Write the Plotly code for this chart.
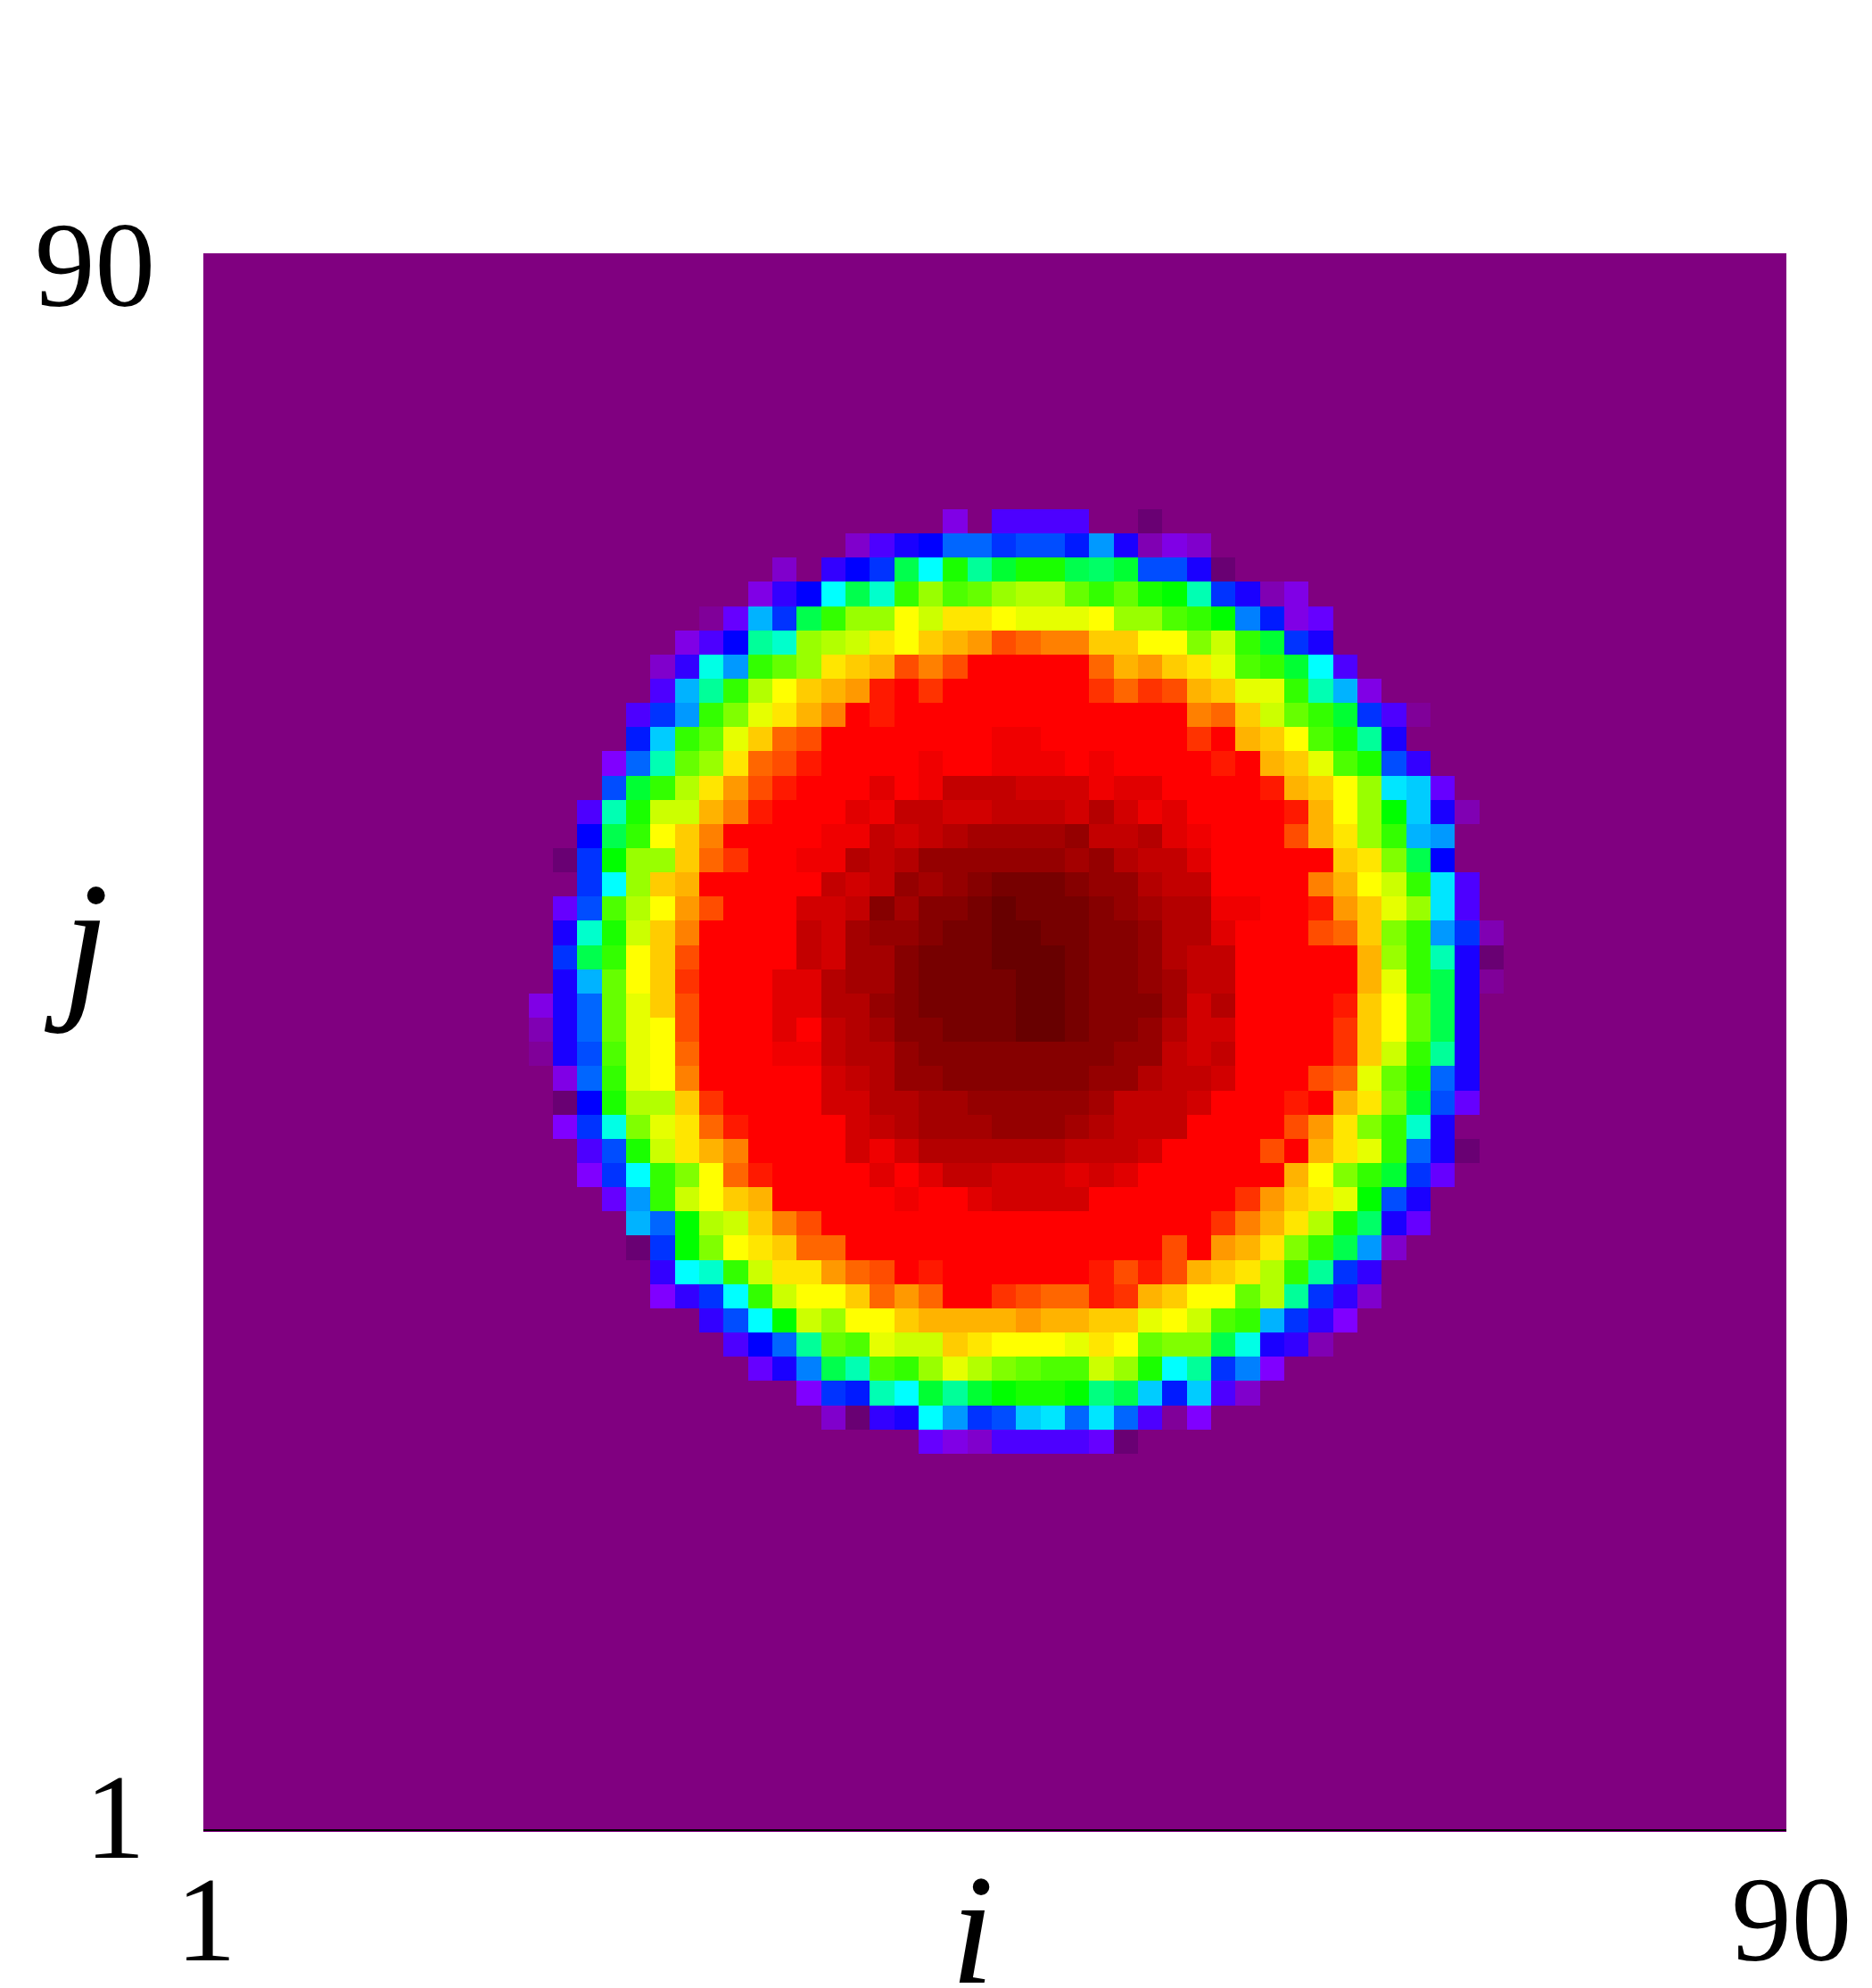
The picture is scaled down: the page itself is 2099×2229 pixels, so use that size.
import numpy as np
import plotly.graph_objects as go

# colour codes read cell by cell off the disk, top row first
disk_rows = [
    [0]*17 + [4,0,7,7,7,7,0,0,-2],
    [0]*13 + [3,7,9,10,14,14,12,13,13,11,16,9,2,4,3],
    [0]*10 + [3,0,8,10,12,27,20,31,24,28,31,31,27,26,28,13,13,9,-2],
    [0]*9 + [4,8,10,20,27,22,32,36,33,34,36,37,37,34,32,34,31,30,23,12,9,2,4],
    [0]*7 + [1,6,17,12,27,32,36,36,40,38,41,41,40,39,39,39,40,36,36,33,32,30,15,11,4,6],
    [0]*6 + [4,7,10,24,22,36,37,38,41,40,42,43,44,47,46,45,45,42,42,40,40,35,38,32,28,12,9],
    [0]*5 + [3,8,21,16,32,34,36,41,42,43,47,45,47,50,50,50,50,50,46,43,44,42,41,39,33,32,28,20,7],
    [0]*5 + [7,17,24,32,37,40,42,43,44,49,50,48,50,50,50,50,50,50,48,46,48,47,43,42,39,39,32,23,17,4],
    [0]*4 + [7,12,16,32,35,39,41,43,45,50,49,50,50,50,50,50,50,50,50,50,50,50,50,45,46,42,38,34,32,28,12,7,1],
    [0]*4 + [11,18,32,34,39,42,46,47,50,50,50,50,50,50,50,51,51,50,50,50,50,50,50,48,50,43,42,40,33,31,24,9],
    [0]*3 + [5,14,23,34,36,41,46,47,49,50,50,50,50,51,50,50,51,51,51,50,51,50,50,50,50,49,50,43,42,39,33,31,13,8],
    [0]*3 + [13,28,32,37,41,44,47,49,50,50,50,52,50,51,54,54,54,53,53,53,51,52,52,50,50,50,50,49,43,42,40,36,19,18,6],
    [0]*2 + [7,23,31,38,38,43,45,49,50,50,50,52,51,54,54,53,53,54,54,54,53,55,53,51,52,50,50,50,50,49,43,40,36,30,18,9,2],
    [0]*2 + [10,27,32,40,42,45,50,50,50,50,51,51,54,53,54,55,56,56,56,56,57,54,54,55,52,51,50,50,50,47,43,41,36,32,17,16],
    [0,-2,12,30,36,36,42,46,48,50,50,51,51,55,54,55,57,57,57,57,57,57,56,57,55,54,54,52,50,50,50,50,50,42,41,35,27,10],
    [0,0,12,20,36,42,43,50,50,50,50,50,54,53,54,57,56,57,58,59,59,59,58,57,57,55,54,54,50,50,50,50,45,43,40,38,32,19,7],
    [0,6,13,33,37,40,44,47,50,50,50,53,53,54,58,56,58,58,59,60,59,59,59,58,57,56,55,55,51,51,50,50,49,44,42,39,36,19,7],
    [0,9,22,31,38,42,45,50,50,50,50,54,53,56,57,57,58,59,59,60,60,59,59,58,58,57,55,55,52,50,50,50,47,46,42,35,32,16,12,2],
    [0,12,27,32,40,42,47,50,50,50,50,54,53,56,56,58,59,59,59,60,60,60,59,58,58,57,55,54,54,50,50,50,50,50,43,36,32,23,9,-2],
    [0,9,17,34,40,42,48,50,50,50,52,52,55,56,56,58,59,59,59,59,60,60,59,58,58,57,56,54,54,50,50,50,50,50,43,39,32,27,9,1],
    [4,9,14,34,39,42,47,50,50,50,52,52,55,55,57,58,59,59,59,59,60,60,59,58,58,58,56,53,55,50,50,50,50,49,42,40,34,27,9,0],
    [2,9,14,34,39,40,47,50,50,50,52,50,54,55,56,58,58,59,59,59,60,60,59,58,58,57,55,53,53,50,50,50,50,48,42,40,34,27,9,0],
    [1,9,13,33,39,40,46,50,50,50,51,51,54,55,55,57,58,58,58,58,58,58,58,58,57,57,54,53,54,50,50,50,50,48,42,38,32,24,9,0],
    [0,4,14,32,39,40,45,50,50,50,50,50,53,54,55,57,57,58,58,58,58,58,58,57,57,55,54,54,53,50,50,50,47,46,39,34,31,14,9,0],
    [0,-2,10,31,37,37,42,48,50,50,50,50,53,53,55,55,56,56,57,57,57,57,57,56,54,54,54,53,50,50,50,49,50,43,41,35,28,13,6,0],
    [0,5,12,21,35,39,41,46,49,50,50,50,50,53,54,55,56,56,56,57,57,57,56,55,54,54,54,50,50,50,50,47,44,41,35,32,22,9],
    [0,0,7,13,31,38,41,43,45,50,50,50,50,53,51,53,55,55,55,55,55,55,54,54,54,53,50,50,50,50,47,50,43,41,39,32,14,9,-2],
    [0,0,5,12,20,32,35,40,46,49,50,50,50,50,52,50,52,54,54,53,53,53,52,53,52,50,50,50,50,50,50,43,40,35,32,28,12,6],
    [0]*3 + [6,16,32,38,40,42,43,50,50,50,50,50,51,50,50,52,53,53,53,53,50,50,50,50,50,50,48,44,42,41,39,30,13,9],
    [0]*4 + [17,14,30,37,38,42,45,47,50,50,50,50,50,50,50,50,50,50,50,50,50,50,50,50,48,45,43,41,37,31,26,9,6],
    [0]*4 + [-2,12,30,35,40,41,42,46,46,50,50,50,50,50,50,50,50,50,50,50,50,50,47,50,44,43,41,35,32,27,16,3],
    [0]*5 + [8,20,22,32,38,41,41,44,46,47,50,49,50,50,50,50,50,50,49,47,49,47,43,42,41,37,32,24,12,8],
    [0]*5 + [5,8,12,20,32,38,40,40,42,46,44,46,50,50,48,47,46,46,49,48,43,42,40,40,34,37,24,12,8,3],
    [0]*7 + [8,13,20,30,38,36,40,40,42,43,43,43,43,44,43,43,42,42,39,40,38,33,32,17,12,8,5],
    [0]*8 + [7,10,14,24,34,33,39,38,38,42,41,40,40,40,39,41,40,34,35,35,27,21,9,8,2],
    [0]*9 + [6,9,15,27,23,33,32,36,39,37,35,34,33,33,38,36,31,20,24,12,15,5],
    [0]*11 + [5,12,11,23,20,28,24,28,30,31,31,30,25,27,18,11,18,7,3],
    [0]*12 + [3,-2,8,9,20,16,12,13,18,19,14,19,14,7,1,5],
    [0]*16 + [6,4,3,7,7,7,7,6,-2],
]

# the rest of the 66x66 grid is the flat background value
grid = np.zeros((66, 66))
for r, row in enumerate(disk_rows):
    grid[11 + r, 14:14 + len(row)] = row
grid = np.flipud(grid)

zmin, zmax = -2, 60
stops = [(-2, "rgb(105,0,115)"), (0, "rgb(128,0,128)"), (5, "rgb(128,0,255)"),
         (10, "rgb(0,0,255)"), (20, "rgb(0,255,255)"), (30, "rgb(0,255,0)"),
         (40, "rgb(255,255,0)"), (50, "rgb(255,0,0)"), (60, "rgb(104,0,0)")]
colorscale = [[(v - zmin) / (zmax - zmin), c] for v, c in stops]

fig = go.Figure(go.Heatmap(
    z=grid,
    x0=0.784, dx=1.3703,
    y0=1.17, dy=1.3652,
    zmin=zmin, zmax=zmax,
    colorscale=colorscale,
    showscale=False,
))

serif = "Liberation Serif"
# page body has an 8px margin, so the figure is 8px smaller each way
fig.update_layout(
    width=2091, height=2221,
    margin=dict(l=220, r=96, t=276, b=175),
    paper_bgcolor="white",
    plot_bgcolor="rgb(128,0,128)",
    font=dict(family=serif, color="black", size=135),
    xaxis=dict(range=[1, 90], tickvals=[1.15, 90], ticktext=["1", "\u200a90"],
               showgrid=False, zeroline=False, ticks="", ticklabelstandoff=8,
               automargin=False),
    yaxis=dict(range=[1, 90], tickvals=[1.9, 89.4], ticktext=["1\u200a", "90"],
               showgrid=False, zeroline=False, ticks="outside", ticklen=26,
               tickcolor="rgba(0,0,0,0)", automargin=False),
    shapes=[dict(type="line", xref="paper", yref="y", x0=0, x1=1, y0=1.1, y1=1.1,
                 line=dict(color="black", width=2))],
    annotations=[
        dict(text="<i>i</i>", xref="paper", yref="paper", x=0.486, y=-0.0621,
             xanchor="center", yanchor="middle",
             showarrow=False, font=dict(size=175, family=serif)),
        dict(text="<i>j</i>", xref="paper", yref="paper", x=-0.1017, y=0.564,
             xanchor="left", yanchor="middle",
             showarrow=False, font=dict(size=188, family=serif)),
    ],
)

fig.write_html("out.html")
